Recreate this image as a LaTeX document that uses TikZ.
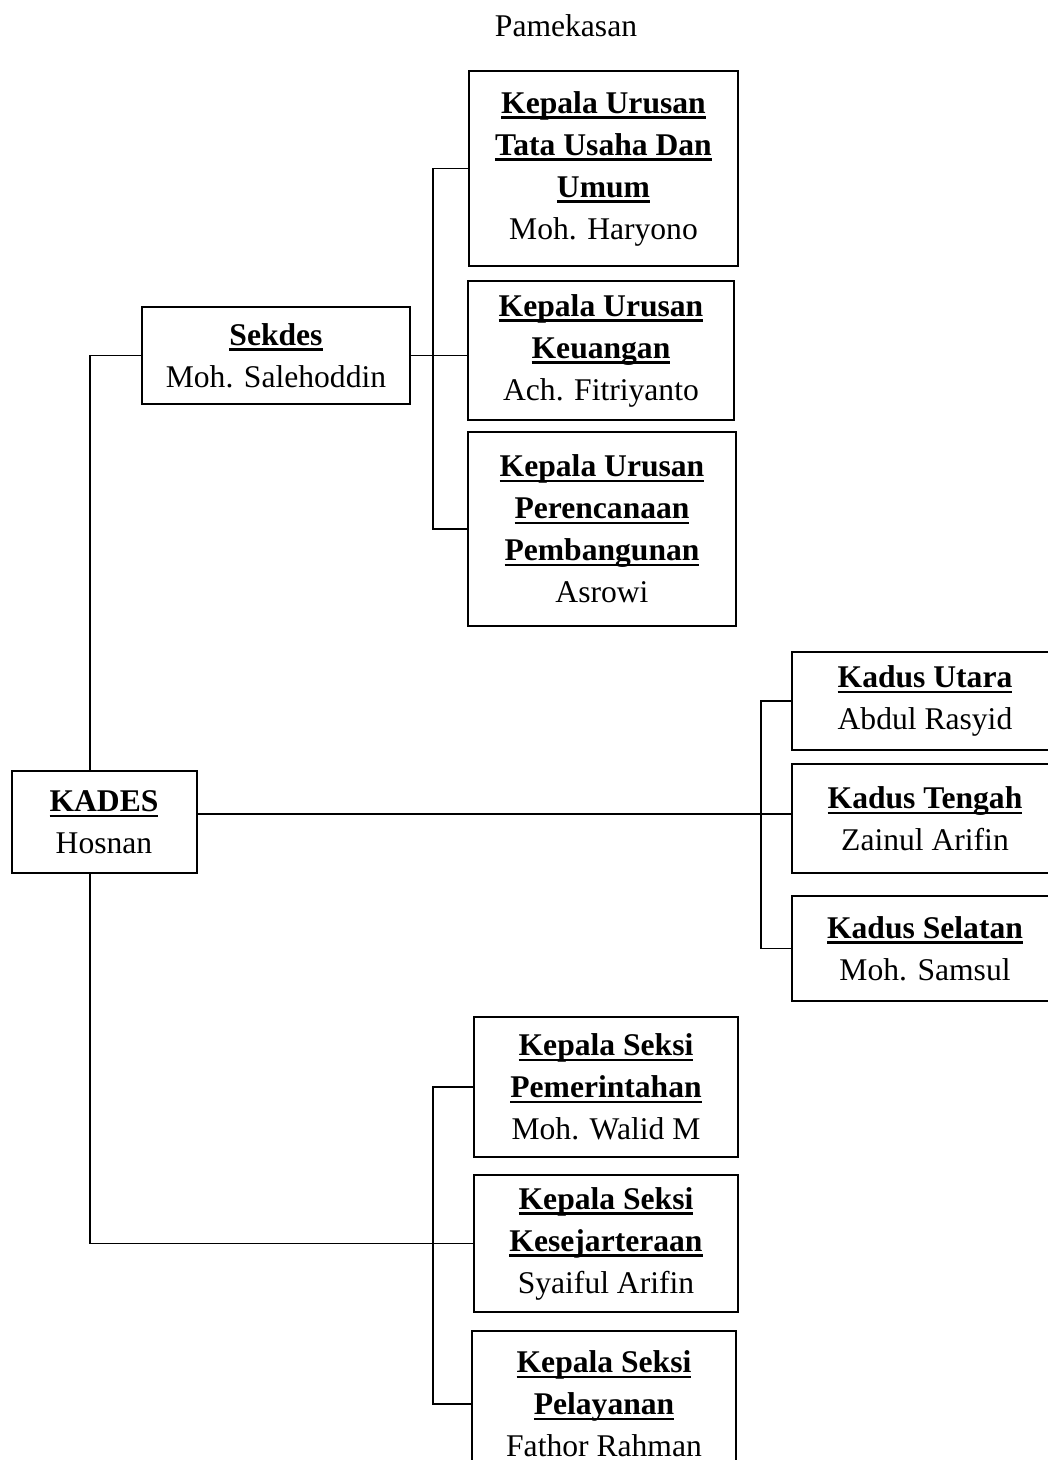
\documentclass[tikz,border=0pt]{standalone}
\usepackage{fontspec}
\setmainfont{Liberation Serif}
\newcommand\jab[1]{\setbox0\hbox{\bfseries #1}\rlap{\rule[-2.8pt]{\wd0}{1.2pt}}\box0}
\begin{document}
\begin{tikzpicture}[x=0.5pt,y=-0.5pt,
  kotak/.style={draw,line width=1pt,align=center,inner sep=0pt,
    font=\fontsize{15.8}{21}\selectfont},
  garis/.style={line width=0.75pt}]

  \useasboundingbox (0,0) rectangle (1048,1460);

  \node[font=\fontsize{15.8}{21}\selectfont] (judul) at (566,26) {Pamekasan};

  %% kades dan sekdes
  \node[kotak,minimum width=92.5pt,minimum height=51pt] (kades) at (104,822)
  {\jab{KADES}\\Hosnan};
  \node[kotak,minimum width=134pt,minimum height=48.5pt] (sekdes) at (276,355.5)
  {\jab{Sekdes}\\Moh. Salehoddin};

  %% kepala urusan
  \node[kotak,minimum width=134.5pt,minimum height=97.5pt] (kaur1) at (603.5,168.5)
  {\jab{Kepala Urusan}\\\jab{Tata Usaha Dan}\\\jab{Umum}\\Moh. Haryono};
  \node[kotak,minimum width=133pt,minimum height=69.5pt] (kaur2) at (601,350.5)
  {\jab{Kepala Urusan}\\\jab{Keuangan}\\Ach. Fitriyanto};
  \node[kotak,minimum width=134pt,minimum height=97pt] (kaur3) at (602,529)
  {\jab{Kepala Urusan}\\\jab{Perencanaan}\\\jab{Pembangunan}\\Asrowi};

  %% kadus
  \node[kotak,minimum width=133pt,minimum height=49pt] (kadus1) at (925,701)
  {\jab{Kadus Utara}\\Abdul Rasyid};
  \node[kotak,minimum width=133pt,minimum height=54.5pt] (kadus2) at (925,818.5)
  {\jab{Kadus Tengah}\\Zainul Arifin};
  \node[kotak,minimum width=133pt,minimum height=52.5pt] (kadus3) at (925,948.5)
  {\jab{Kadus Selatan}\\Moh. Samsul};

  %% kepala seksi
  \node[kotak,minimum width=132pt,minimum height=70pt] (kasi1) at (606,1087)
  {\jab{Kepala Seksi}\\\jab{Pemerintahan}\\Moh. Walid M};
  \node[kotak,minimum width=132pt,minimum height=68.5pt] (kasi2) at (606,1243.5)
  {\jab{Kepala Seksi}\\\jab{Kesejarteraan}\\Syaiful Arifin};
  \node[kotak,minimum width=132pt,minimum height=73pt] (kasi3) at (604,1404)
  {\jab{Kepala Seksi}\\\jab{Pelayanan}\\Fathor Rahman};

  \coordinate (sp) at (90,0);
  \coordinate (ub) at (433,0);
  \coordinate (kb) at (761,0);
  \coordinate (lb) at (433,0);

  \draw[garis] (sekdes.west) -| (kades.north -| sp); %% kades -> sekdes
  \draw[garis] (kades.south -| sp) |- (kasi2.west); %% kades -> kasi
  \draw[garis] ([yshift=4pt]kades.east) -- ([yshift=4pt]kades.east -| kadus2.west); %% kades -> kadus

  \draw[garis] (sekdes.east) -- (sekdes.east -| kaur2.west); %% sekdes -> kaur
  \draw[garis] (kaur1.west) -- (kaur1.west -| ub) -- (kaur3.west -| ub) -- (kaur3.west);

  \draw[garis] (kadus1.west) -- (kadus1.west -| kb) -- (kadus3.west -| kb) -- (kadus3.west);

  \draw[garis] (kasi1.west) -- (kasi1.west -| lb) -- (kasi3.west -| lb) -- (kasi3.west);

\end{tikzpicture}
\end{document}
